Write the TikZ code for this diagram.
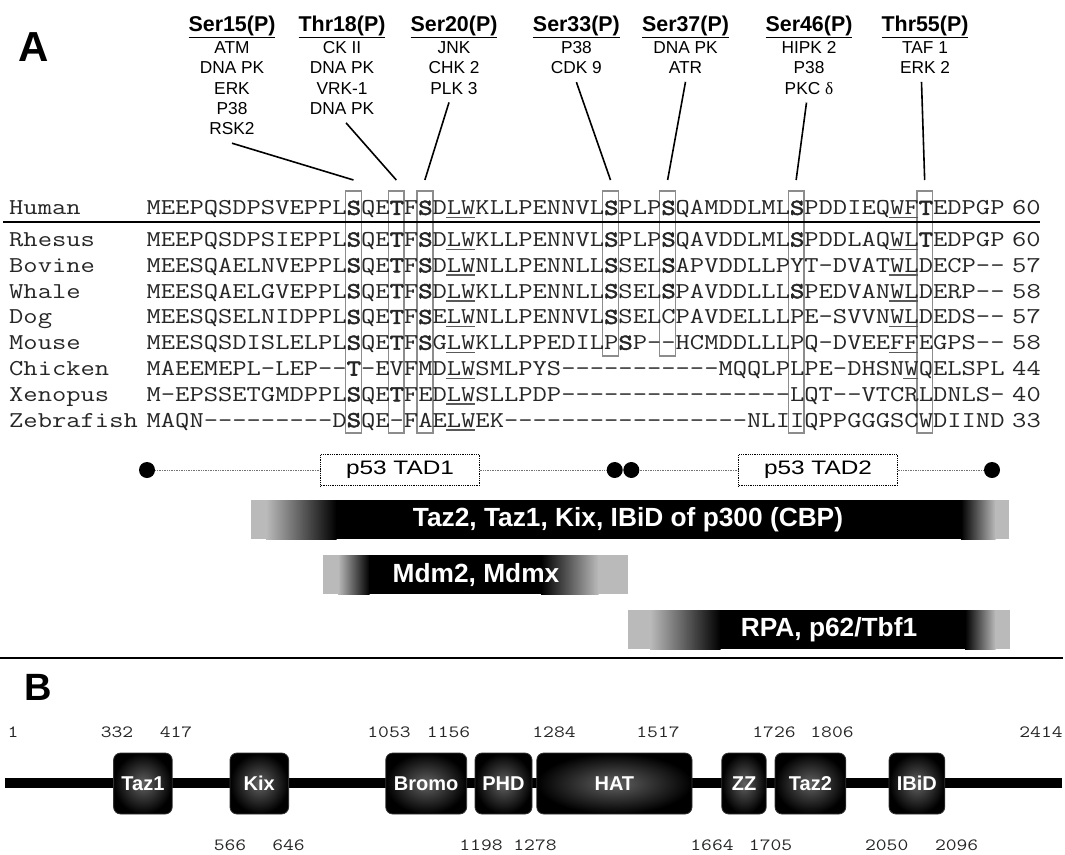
\documentclass[tikz,border=0pt]{standalone}
\usepackage{fontspec}
\setmainfont{Liberation Sans}
\setmonofont{Latin Modern Mono}[FakeStretch=1.2248, BoldFont={Latin Modern Mono}, BoldFeatures={FakeBold=2.5}]
\newfontfamily\deltafont{Liberation Serif}
\newfontfamily\widefont{Liberation Sans}[FakeStretch=1.25]
\usepackage{tikz}
\usetikzlibrary{positioning}

\colorlet{barend}{black!27}
% midden van kolom #1 in de alignment
\newcommand{\col}[1]{146.4+(#1-0.5)*14.28}
% balk: grijs - zwart - grijs
\newcommand{\gradbar}[8]{%
  \fill[barend] (#1,#7) rectangle (#2+0.5,#8);
  \shade[left color=barend, right color=black] (#2,#7) rectangle (#3+0.5,#8);
  \fill[black] (#3,#7) rectangle (#4+0.5,#8);
  \shade[left color=black, right color=barend] (#4,#7) rectangle (#5+0.5,#8);
  \fill[barend] (#5,#7) rectangle (#6,#8);}

\begin{document}
\begin{tikzpicture}[x=1pt, y=-1pt]
        % Stijlen
        \tikzstyle{panel} = [font=\bfseries\fontsize{42}{42}\selectfont, inner sep=0pt]
        \tikzstyle{header} = [anchor=base, inner sep=0pt, font=\bfseries\fontsize{21.4}{24}\selectfont]
        \tikzstyle{kinase} = [align=center, inner sep=0pt, font=\fontsize{17.3}{20.4}\selectfont]
        \tikzstyle{link} = [line width=1.6pt]
        \tikzstyle{seq} = [anchor=base west, inner sep=0pt, text=black!85, font=\ttfamily\fontsize{22.67}{24}\selectfont]
        \tikzstyle{sitebox} = [draw=black!45, line width=1.5pt]
        \tikzstyle{uline} = [draw=black!65, line width=1.4pt]
        \tikzstyle{dot} = [circle, fill=black, minimum size=16pt, inner sep=0pt]
        \tikzstyle{dotline} = [draw=black!55, densely dotted, line width=0.7pt]
        \tikzstyle{tad} = [draw, densely dotted, fill=white, line width=0.8pt, minimum width=158.6pt, minimum height=31.4pt, inner sep=0pt, font=\widefont\fontsize{19.5}{20}\selectfont]
        \tikzstyle{bartext} = [text=white, inner sep=0pt, font=\bfseries\fontsize{26.3}{26}\selectfont]
        \tikzstyle{pdomain} = [rectangle, rounded corners=7pt, minimum height=61pt, inner sep=0pt, draw=black!80, line width=0.8pt, inner color=black!62, outer color=black, text=white, font=\bfseries\fontsize{20}{20}\selectfont]
        \tikzstyle{posnr} = [anchor=base, inner sep=0pt, text=black!85, font=\ttfamily\fontsize{17.14}{18}\selectfont]

        \useasboundingbox (0,0) rectangle (1065,854);

        % Paneel A
        \node[panel] (lblA) at (33.5,46.7) {A};

        % Fosforylatieplaatsen en kinasen
        \node[header] (h15) at (232,31) {\underline{Ser15(P)}};
        \node[kinase, below=3.5pt of h15] (k15) {ATM\\DNA PK\\ERK\\P38\\RSK2};
        \node[header] (h18) at (342,31) {\underline{Thr18(P)}};
        \node[kinase, below=3.5pt of h18] (k18) {CK II\\DNA PK\\VRK-1\\DNA PK};
        \node[header] (h20) at (454,31) {\underline{Ser20(P)}};
        \node[kinase, below=3.5pt of h20] (k20) {JNK\\CHK 2\\PLK 3};
        \node[header] (h33) at (576.4,31) {\underline{Ser33(P)}};
        \node[kinase, below=3.5pt of h33] (k33) {P38\\CDK 9};
        \node[header] (h37) at (685.5,31) {\underline{Ser37(P)}};
        \node[kinase, below=3.5pt of h37] (k37) {DNA PK\\ATR};
        \node[header] (h46) at (809,31) {\underline{Ser46(P)}};
        \node[kinase, below=3.5pt of h46] (k46) {HIPK 2\\P38\\PKC {\deltafont δ}};
        \node[header] (h55) at (925,31) {\underline{Thr55(P)}};
        \node[kinase, below=3.5pt of h55] (k55) {TAF 1\\ERK 2};

        \coordinate (b15) at ({\col{15}},180);
        \coordinate (b18) at ({\col{18}},180);
        \coordinate (b20) at ({\col{20}},180);
        \coordinate (b33) at ({\col{33}},180);
        \coordinate (b37) at ({\col{37}},180);
        \coordinate (b46) at ({\col{46}},180);
        \coordinate (b55) at ({\col{55}},180);

        \draw[link] ([yshift=-8pt]k15.south) -- (b15);
        \draw[link] ([xshift=4pt,yshift=-8pt]k18.south) -- (b18);
        \draw[link] ([xshift=-5pt,yshift=-8pt]k20.south) -- (b20);
        \draw[link] ([yshift=-8pt]k33.south) -- (b33);
        \draw[link] ([yshift=-8pt]k37.south) -- (b37);
        \draw[link] ([xshift=-2.5pt,yshift=-8pt]k46.south) -- (b46);
        \draw[link] ([xshift=-3.5pt,yshift=-8pt]k55.south) -- (b55);

        % Kaders rond de plaatsen
        \draw[sitebox] ({\col{15}-7.9},191) rectangle ({\col{15}+7.9},433);
        \draw[sitebox] ({\col{18}-7.9},191) rectangle ({\col{18}+7.9},433);
        \draw[sitebox] ({\col{20}-7.9},191) rectangle ({\col{20}+7.9},433);
        \draw[sitebox] ({\col{33}-7.9},191) rectangle ({\col{33}+7.9},356);
        \draw[sitebox] ({\col{37}-7.9},191) rectangle ({\col{37}+7.9},356);
        \draw[sitebox] ({\col{46}-7.9},191) rectangle ({\col{46}+7.9},433);
        \draw[sitebox] ({\col{55}-7.9},191) rectangle ({\col{55}+7.9},433);

        % Sequenties
        \node[seq] (human) at (9,214.8) {Human};
        \node[seq] (shuman) at (146.4,214.8) {MEEPQSDPSVEPPL\textbf{S}QE\textbf{T}F\textbf{S}DLWKLLPENNVL\textbf{S}PLP\textbf{S}QAMDDLML\textbf{S}PDDIEQWF\textbf{T}EDPGP};
        \node[seq] (nhuman) at (1012,214.8) {60};
        \draw[line width=2pt] (3,221.5) -- (1040,221.5);
        \node[seq] (rhesus) at (9,246.5) {Rhesus};
        \node[seq] (srhesus) at (146.4,246.5) {MEEPQSDPSIEPPL\textbf{S}QE\textbf{T}F\textbf{S}DLWKLLPENNVL\textbf{S}PLP\textbf{S}QAVDDLML\textbf{S}PDDLAQWL\textbf{T}EDPGP};
        \node[seq] (nrhesus) at (1012,246.5) {60};
        \node[seq] (bovine) at (9,272.3) {Bovine};
        \node[seq] (sbovine) at (146.4,272.3) {MEESQAELNVEPPL\textbf{S}QE\textbf{T}F\textbf{S}DLWNLLPENNLL\textbf{S}SEL\textbf{S}APVDDLLPYT-DVATWLDECP--};
        \node[seq] (nbovine) at (1012,272.3) {57};
        \node[seq] (whale) at (9,298.1) {Whale};
        \node[seq] (swhale) at (146.4,298.1) {MEESQAELGVEPPL\textbf{S}QE\textbf{T}F\textbf{S}DLWKLLPENNLL\textbf{S}SEL\textbf{S}PAVDDLLL\textbf{S}PEDVANWLDERP--};
        \node[seq] (nwhale) at (1012,298.1) {58};
        \node[seq] (dog) at (9,323.9) {Dog};
        \node[seq] (sdog) at (146.4,323.9) {MEESQSELNIDPPL\textbf{S}QE\textbf{T}F\textbf{S}ELWNLLPENNVL\textbf{S}SELCPAVDELLLPE-SVVNWLDEDS--};
        \node[seq] (ndog) at (1012,323.9) {57};
        \node[seq] (mouse) at (9,349.7) {Mouse};
        \node[seq] (smouse) at (146.4,349.7) {MEESQSDISLELPL\textbf{S}QE\textbf{T}F\textbf{S}GLWKLLPPEDILP\textbf{S}P--HCMDDLLLPQ-DVEEFFEGPS--};
        \node[seq] (nmouse) at (1012,349.7) {58};
        \node[seq] (chicken) at (9,375.5) {Chicken};
        \node[seq] (schicken) at (146.4,375.5) {MAEEMEPL-LEP--\textbf{T}-EVFMDLWSMLPYS-----------MQQLPLPE-DHSNWQELSPL};
        \node[seq] (nchicken) at (1012,375.5) {44};
        \node[seq] (xenopus) at (9,401.3) {Xenopus};
        \node[seq] (sxenopus) at (146.4,401.3) {M-EPSSETGMDPPL\textbf{S}QE\textbf{T}FEDLWSLLPDP----------------LQT--VTCRLDNLS-};
        \node[seq] (nxenopus) at (1012,401.3) {40};
        \node[seq] (zebrafish) at (9,427.1) {Zebrafish};
        \node[seq] (szebrafish) at (146.4,427.1) {MAQN---------D\textbf{S}QE-FAELWEK-----------------NLIIQPPGGGSCWDIIND};
        \node[seq] (nzebrafish) at (1012,427.1) {33};

        % Onderstrepingen
        \foreach \y in {217.5,249.2,275,300.8,326.6,352.4,378.2,404,429.8}
            \draw[uline] ({\col{22}-7.14},\y) -- ({\col{23}+7.14},\y);
        \foreach \y in {217.5,249.2,275,300.8,326.6,352.4}
            \draw[uline] ({\col{53}-7.14},\y) -- ({\col{54}+7.14},\y);
        \draw[uline] ({\col{54}-7.14},378.2) -- ({\col{54}+7.14},378.2);

        % Transactivatiedomeinen
        \node[dot] (d1) at (147,470) {};
        \node[dot] (d2) at (614.7,470) {};
        \node[dot] (d3) at (631.3,470) {};
        \node[dot] (d4) at (992,470) {};
        \node[tad] (tad1) at (400,470) {p53 TAD1};
        \node[tad] (tad2) at (818,470) {p53 TAD2};
        \draw[dotline] (d1) -- (tad1.west);
        \draw[dotline] (tad1.east) -- (d2);
        \draw[dotline] (d3) -- (tad2.west);
        \draw[dotline] (tad2.east) -- (d4);

        % Bindingspartners
        \gradbar{251}{266}{336}{961}{995}{1009}{500}{539}
        \node[bartext] (cbp) at (628,520) {Taz2, Taz1, Kix, IBiD of p300 (CBP)};
        \gradbar{323}{338}{369}{541}{598}{628}{555}{594}
        \node[bartext] (mdm) at (476,575) {Mdm2, Mdmx};
        \gradbar{628}{650}{720}{965}{995}{1010}{610}{649}
        \node[bartext] (rpa) at (829,630) {RPA, p62/Tbf1};

        \draw[line width=2pt] (0,658) -- (1063,658);

        % Paneel B
        \node[panel, font=\bfseries\fontsize{38}{38}\selectfont] (lblB) at (38,687.5) {B};
        \draw[line width=10pt] (5,783) -- (1062,783);
        \node[pdomain, minimum width=58.6pt] (taz1) at (142.9,783.5) {Taz1};
        \node[pdomain, minimum width=58.6pt] (kix) at (259.3,783.5) {Kix};
        \node[pdomain, minimum width=80.9pt] (bromo) at (426.2,783.5) {Bromo};
        \node[pdomain, minimum width=57pt] (phd) at (503.5,783.5) {PHD};
        \node[pdomain, minimum width=155.2pt] (hat) at (614.4,783.5) {HAT};
        \node[pdomain, minimum width=44.4pt] (zz) at (744,783.5) {ZZ};
        \node[pdomain, minimum width=70.7pt] (taz2) at (810.4,783.5) {Taz2};
        \node[pdomain, minimum width=55.7pt] (ibid) at (916.9,783.5) {IBiD};

        % Posities
        \node[posnr] (p1) at (13,737.3) {1};
        \node[posnr] (p332) at (117,737.3) {332};
        \node[posnr] (p417) at (176,737.3) {417};
        \node[posnr] (p1053) at (389,737.3) {1053};
        \node[posnr] (p1156) at (448.6,737.3) {1156};
        \node[posnr] (p1284) at (554,737.3) {1284};
        \node[posnr] (p1517) at (658,737.3) {1517};
        \node[posnr] (p1726) at (774,737.3) {1726};
        \node[posnr] (p1806) at (832,737.3) {1806};
        \node[posnr] (p2414) at (1041,737.3) {2414};
        \node[posnr] (p566) at (230,850.8) {566};
        \node[posnr] (p646) at (288.5,850.8) {646};
        \node[posnr] (p1198) at (481,850.8) {1198};
        \node[posnr] (p1278) at (535,850.8) {1278};
        \node[posnr] (p1664) at (712,850.8) {1664};
        \node[posnr] (p1705) at (770.6,850.8) {1705};
        \node[posnr] (p2050) at (886.7,850.8) {2050};
        \node[posnr] (p2096) at (956.6,850.8) {2096};
\end{tikzpicture}
\end{document}
